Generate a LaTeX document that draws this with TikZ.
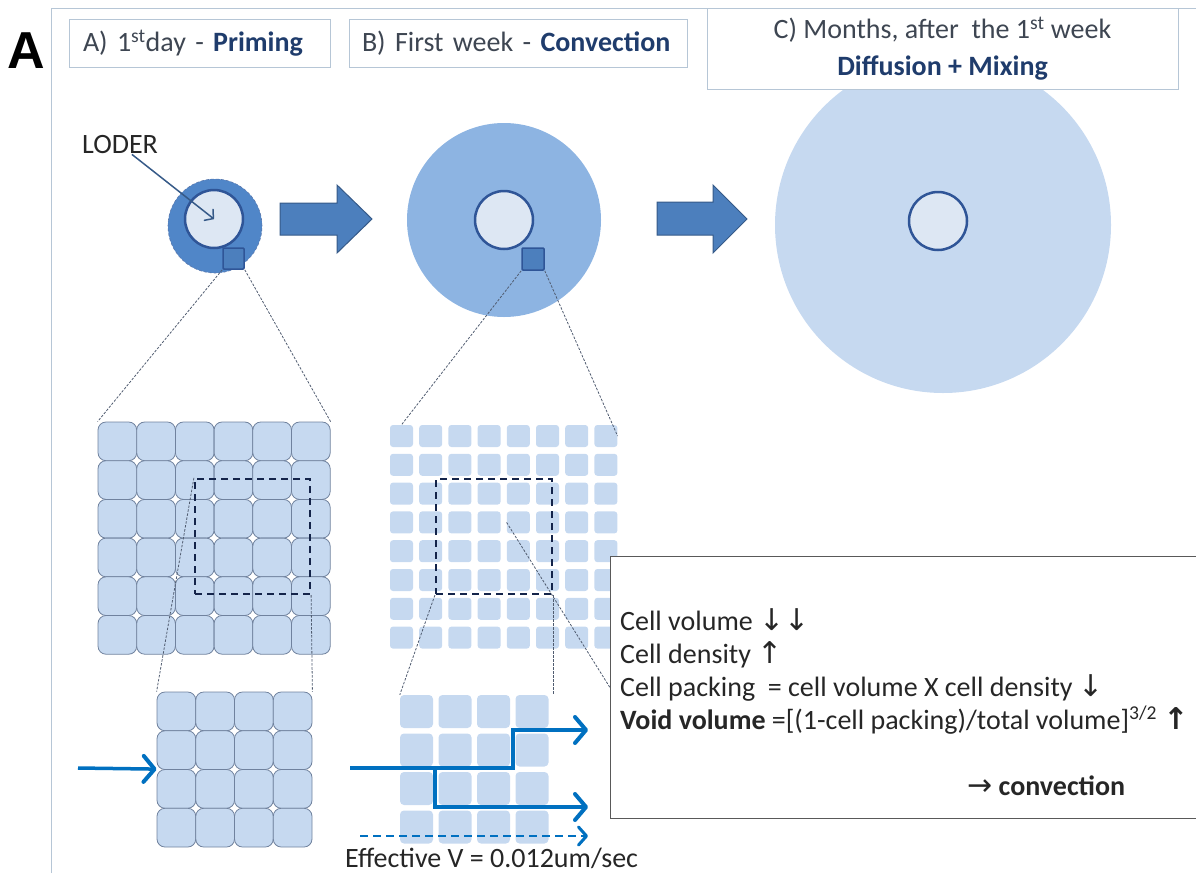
\documentclass[tikz,border=0pt]{standalone}
\usepackage{fontspec}
\setmainfont{Carlito}
\newfontfamily\panelfont{Liberation Sans}
\newfontfamily\arrowfont{DejaVu Sans}
\newcommand\arrsym{\arrowfont\fontsize{30}{30}\selectfont}
\usetikzlibrary{arrows.meta}

\definecolor{ringdark}{RGB}{80,134,200}
\definecolor{ringmid}{RGB}{141,180,226}
\definecolor{ringlight}{RGB}{198,217,240}
\definecolor{corefill}{RGB}{221,231,243}
\definecolor{coreline}{RGB}{47,85,151}
\definecolor{cellfill}{RGB}{198,217,240}
\definecolor{cellline}{RGB}{112,130,158}
\definecolor{flowblue}{RGB}{0,112,192}
\definecolor{framegray}{RGB}{182,198,214}
\definecolor{headtext}{RGB}{62,70,82}
\definecolor{headbold}{RGB}{31,60,108}
\definecolor{pointergray}{RGB}{80,92,112}
\definecolor{zoomnavy}{RGB}{20,36,74}
\definecolor{arrowfill}{RGB}{76,127,189}
\definecolor{arrowline}{RGB}{54,90,136}

\begin{document}
\begin{tikzpicture}[x=1pt, y=-1pt,
    txt/.style={font=\fontsize{28}{33}\selectfont, inner sep=0pt},
    headbox/.style={draw=framegray, fill=white, line width=0.8pt, txt, text=headtext, minimum height=48pt, inner ysep=0pt},
    core/.style={circle, draw=coreline, fill=corefill, line width=2.5pt, minimum size=58pt, inner sep=0pt},
    sqbox/.style={draw=coreline, fill=arrowfill, line width=1.5pt, rounded corners=1pt, minimum size=21pt, inner sep=0pt},
    blockarrow/.style={fill=arrowfill, draw=arrowline, line width=1pt, line join=miter},
    bigcell/.style={draw=cellline, fill=cellfill, line width=0.8pt, rounded corners=8pt, minimum size=38.7pt, inner sep=0pt},
    midcell/.style={fill=cellfill, rounded corners=3pt, minimum width=23pt, minimum height=22pt, inner sep=0pt},
    lowcell/.style={fill=cellfill, rounded corners=4pt, minimum size=33pt, inner sep=0pt},
    zoombox/.style={draw=zoomnavy, line width=2.2pt, dash pattern=on 7pt off 5pt, inner sep=0pt},
    pointer/.style={draw=pointergray, line width=0.8pt, dash pattern=on 2.5pt off 1.5pt},
    flow/.style={draw=flowblue, line width=3.5pt, -{Straight Barb[length=11pt,width=26pt,line width=4pt,round]}},
  ]
  \useasboundingbox (0,0) rectangle (1196,873);

  % === cornice esterna ===
  \draw[framegray, line width=1pt] (51,873) -- (51,8) -- (1196,8);
  \node[font=\panelfont\bfseries\fontsize{52}{52}\selectfont, inner sep=0pt] (panel) at (26,51) {A};

  % === C: stadio finale ===
  \node[circle, fill=ringlight, minimum size=336pt, inner sep=0pt] (ringC) at (943,225) {};
  \node[core] (coreC) at (938,221) {};

  % === intestazioni ===
  \node[headbox, minimum width=261pt, text width=233pt, inner xsep=14pt, align=left] (headA) at (199.5,43)
    {A) 1\textsuperscript{st}day - \textbf{\color{headbold}Priming}};
  \node[headbox, minimum width=338pt, text width=312pt, inner xsep=13pt, align=left] (headB) at (518,43)
    {B) First week - \textbf{\color{headbold}Convection}};
  \node[headbox, font=\fontsize{28}{37}\selectfont, minimum width=471pt, minimum height=81pt, align=center] (headC) at (942.5,48.5)
    {C) Months, after~ the 1\textsuperscript{st} week\\\textbf{\color{headbold}Diffusion + Mixing}};

  % === A: priming ===
  \node[circle, fill=ringdark, draw=coreline!80, densely dashed, line width=0.6pt, minimum size=94pt, inner sep=0pt] (ringA) at (215,226) {};
  \node[core] (coreA) at (214,219) {};
  \node[sqbox] (sqA) at (233.5,258.5) {};
  \node[txt, text=black!85] (loder) at (120,145) {LODER};
  \draw[draw=arrowline, line width=1.5pt, -{Straight Barb[length=6pt,width=14pt,round]}] (loder) -- (coreA.center);

  % Freccia
  \draw[blockarrow] (280,203) -- (337,203) -- (337,185) -- (372,219) -- (337,253) -- (337,235) -- (280,235) -- cycle;

  % === B: convezione ===
  \node[circle, fill=ringmid, minimum size=194pt, inner sep=0pt] (ringB) at (504,220) {};
  \node[core] (coreB) at (504,220) {};
  \node[sqbox, minimum size=22pt] (sqB) at (533,259) {};

  % Freccia
  \draw[blockarrow] (657,202) -- (713,202) -- (713,185) -- (747,219) -- (713,253) -- (713,235) -- (657,235) -- cycle;

  % === griglie di celle ===
  \foreach \r in {1,...,6}
    \foreach \c in {1,...,6}
      \node[bigcell] (ga-\r-\c) at ({98+38.7*(\c-0.5)}, {422+38.7*(\r-0.5)}) {};
  \foreach \r in {1,...,4}
    \foreach \c in {1,...,4}
      \node[bigcell, minimum size=38.75pt] (gc-\r-\c) at ({157+38.75*(\c-0.5)}, {692+38.75*(\r-0.5)}) {};
  \foreach \r in {1,...,8}
    \foreach \c in {1,...,8}
      \node[midcell] (gb-\r-\c) at ({401.5+29.2*(\c-1)}, {436+28.8*(\r-1)}) {};
  \foreach \r in {1,...,4}
    \foreach \c in {1,...,4}
      \node[lowcell] (gd-\r-\c) at ({416.5+38.5*(\c-1)}, {711.5+38.5*(\r-1)}) {};

  \node[zoombox, minimum width=115pt, minimum height=115pt] (zoomA) at (252.5,536.5) {};
  \node[zoombox, minimum width=116pt, minimum height=115pt] (zoomB) at (494,536.5) {};

  % linee di ingrandimento
  \draw[pointer] (sqA.south west) -- (ga-1-1.north west);
  \draw[pointer] (sqA.south east) -- (ga-1-6.north east);
  \draw[pointer] (zoomA.north west) -- (gc-1-1.north west);
  \draw[pointer] (zoomA.south east) -- (gc-1-4.north east);
  \draw[pointer] (sqB.south west) -- (gb-1-1.north);
  \draw[pointer] (sqB.south east) -- (gb-1-8.east);
  \draw[pointer] (zoomB.south west) -- (gd-1-1.north west);
  \draw[pointer] (zoomB.south east) -- (zoomB.south east |- gd-1-4.north);

  % === riquadro di testo ===
  \node[draw=black!65, fill=white, line width=1.2pt, minimum width=600pt, minimum height=262pt, anchor=north west, inner sep=0pt] (info) at (610,556) {};
  \draw[pointer] (gb-4-5.west) -- (info.west);

  \node[txt, anchor=base west, text=black!85] (vol) at (620,630) {Cell volume {\arrsym ↓↓}};
  \node[txt, anchor=base west, text=black!85] (dens) at (620,663) {Cell density {\arrsym ↑}};
  \node[txt, anchor=base west, text=black!85] (pack) at (620,696) {Cell packing \ = cell volume X cell density {\arrsym ↓}};
  \node[txt, anchor=base west, text=black!85] (void) at (620,729)
    {\textbf{Void volume} =[(1-cell packing)/total volume]\textsuperscript{3/2} {\arrsym\bfseries ↑}};
  \node[txt, anchor=base west, text=black!85] (conv) at (967,795) {{\arrsym →} \textbf{convection}};

  % === flussi ===
  \coordinate (inA) at (78,768);
  \draw[flow] (inA) -- (gc-3-1.north west);

  \coordinate (inB) at (350,768);
  \coordinate (outUp) at (588,730);
  \coordinate (outDown) at (588,807);
  \draw[flow] (inB) -- ++(163,0) |- (outUp);
  \draw[flow] ([xshift=85pt]inB) |- (outDown);

  \coordinate (effL) at (360,836);
  \coordinate (effR) at (588,836);
  \draw[flow, line width=2.5pt, dash pattern=on 8pt off 5pt, -{Straight Barb[length=8pt,width=18pt,line width=3pt,round]}] (effL) -- (effR);
  \node[txt, anchor=base west, text=black!85] (effv) at (345,867) {Effective V = 0.012um/sec};

\end{tikzpicture}
\end{document}
